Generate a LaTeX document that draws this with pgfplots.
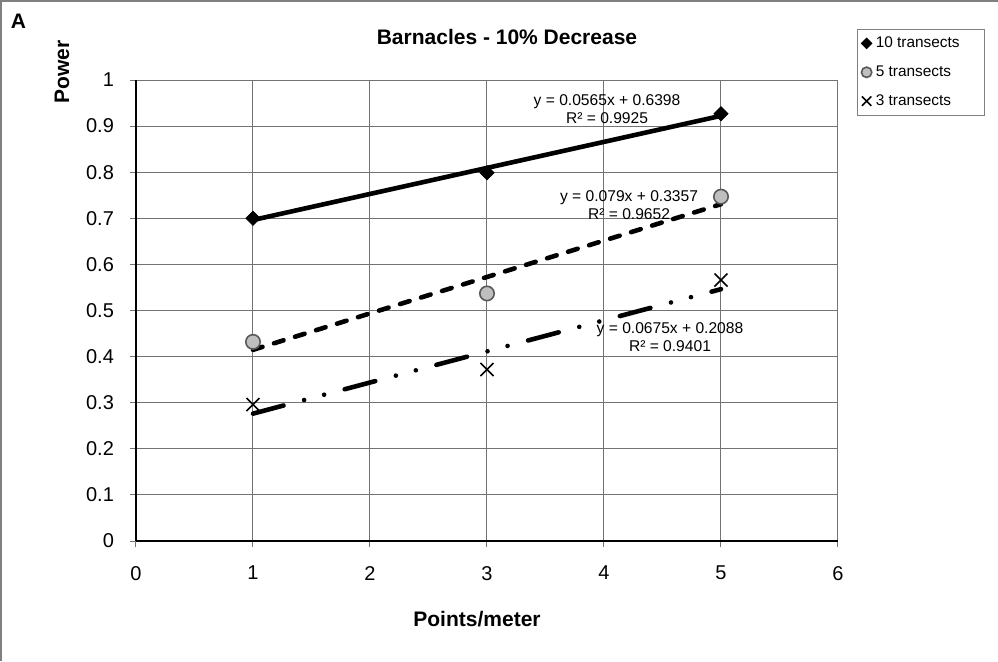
\documentclass[border=0pt]{standalone}
\usepackage{pgfplots}
\pgfplotsset{compat=1.18}
\usepackage{fontspec}
\setmainfont{Liberation Sans}

\pgfplotstableread{
x y
1 0.700
3 0.799
5 0.927
}\tenT
\pgfplotstableread{
x y
1 0.432
3 0.537
5 0.747
}\fiveT
\pgfplotstableread{
x y
1 0.296
3 0.372
5 0.566
}\threeT

\begin{document}
\begin{tikzpicture}
% page extent and chart-area frame
\path[use as bounding box] (-68pt,-60pt) rectangle (431pt,270.5pt);
\draw[black!50, line width=0.6pt] (-67.5pt,-60pt) -- (-67.5pt,270pt) -- (431pt,270pt);

\begin{axis}[
  at={(0pt,0pt)}, anchor=south west,
  scale only axis, width=351pt, height=230.5pt,
  xmin=0, xmax=6, ymin=0, ymax=1,
  axis lines=left, axis line style={-, black, line width=0.6pt},
  xtick={0,1,2,3,4,5,6},
  ytick={0,0.1,0.2,0.3,0.4,0.5,0.6,0.7,0.8,0.9,1},
  yticklabels={0,0.1,0.2,0.3,0.4,0.5,0.6,0.7,0.8,0.9,1},
  grid=major, major grid style={black!55, line width=0.5pt},
  tick align=outside, major tick length=3pt,
  tick style={black!55, line width=0.5pt},
  ticklabel style={font=\fontsize{10}{12}\selectfont},
  /pgf/number format/assume math mode=true,
  yticklabel style={xshift=-4.5pt},
  xticklabel style={yshift=-6pt},
  clip=false,
  legend style={at={(1.027,1.111)}, anchor=north west,
    draw=black!50, line width=0.5pt,
    font=\fontsize{7.7}{9}\selectfont,
    inner xsep=2pt, inner ysep=1.6pt, row sep=3.6pt,
    /tikz/every even column/.append style={column sep=0.5pt}},
  legend cell align=left,
  legend image code/.code={\draw[#1, /tikz/every mark/.append style={scale=0.72}]
    plot coordinates {(0pt,0pt)};},
]
% fitted trend lines
\addplot[forget plot, black, line width=2.3pt, line cap=round]
  coordinates {(1,0.6963) (5,0.9223)};
\addplot[forget plot, black, line width=2.3pt, line cap=round,
  dash pattern=on 5pt off 6pt]
  coordinates {(1,0.4147) (5,0.7307)};
\addplot[forget plot, black, line width=2.3pt, line cap=round,
  dash pattern=on 15.8pt off 10.65pt on 0pt off 10.35pt on 0pt off 10.65pt]
  coordinates {(1,0.2763) (5,0.5463)};

% observed values
\addplot[only marks, mark=square*, mark size=2.5pt,
  mark options={rotate=45, fill=black, draw=black}] table {\tenT};
\addlegendentry{10 transects\rule{8.5pt}{0pt}}
\addplot[only marks, mark=*, mark size=3.6pt,
  mark options={fill=black!25, draw=black!65, line width=0.8pt}] table {\fiveT};
\addlegendentry{5 transects}
\addplot[only marks, mark=x, mark size=4.6pt,
  mark options={draw=black, line width=0.8pt}] table {\threeT};
\addlegendentry{3 transects}

% regression equations
\node[align=center, font=\fontsize{7.8}{9}\selectfont] at (axis cs:4.026,0.937)
  {y = 0.0565x + 0.6398\\R² = 0.9925};
\node[align=center, font=\fontsize{7.8}{9}\selectfont] at (axis cs:4.214,0.729)
  {y = 0.079x + 0.3357\\R² = 0.9652};
\node[align=center, font=\fontsize{7.8}{9}\selectfont] at (axis cs:4.564,0.4425)
  {y = 0.0675x + 0.2088\\R² = 0.9401};
\end{axis}

% titles
\node[font=\fontsize{10.5}{12}\selectfont\bfseries] at (-58.75pt,259.75pt) {A};
\node[font=\fontsize{10.5}{12}\selectfont\bfseries] at (185.5pt,252pt)
  {Barnacles - 10\% Decrease};
\node[font=\fontsize{10.5}{12}\selectfont\bfseries, rotate=90] at (-37pt,234.5pt) {Power};
\node[font=\fontsize{10.5}{12}\selectfont\bfseries] at (170.5pt,-39pt) {Points/meter};
\end{tikzpicture}
\end{document}
